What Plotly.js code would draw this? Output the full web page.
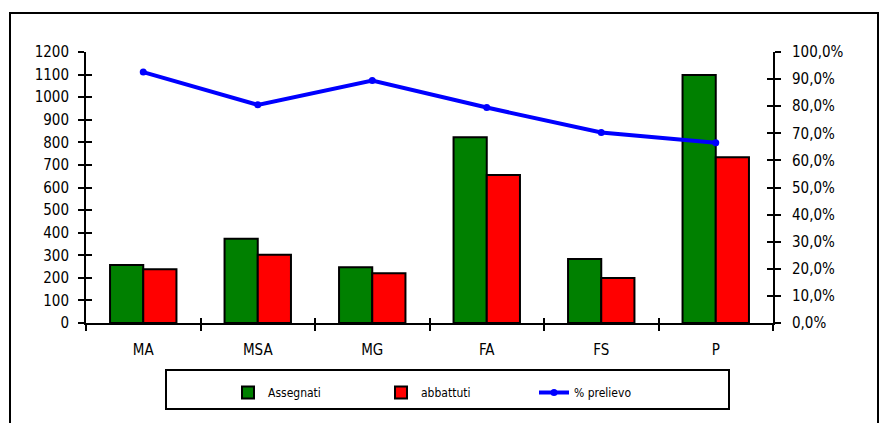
<!DOCTYPE html>
<html>
<head>
<meta charset="utf-8">
<script src="https://cdn.plot.ly/plotly-3.0.1.min.js"></script>
<style>html,body{margin:0;padding:0;background:#fff;}#chart{width:882px;height:423px;}</style>
</head>
<body>
<div id="chart"></div>
<script>
const categories = ['MA', 'MSA', 'MG', 'FA', 'FS', 'P'];
const assegnati = [257, 373, 247, 822, 283, 1098];
const abbattuti = [238, 302, 220, 655, 199, 734];
const prelievo = [0.926, 0.805, 0.895, 0.795, 0.703, 0.665];

const FONT = 'DejaVu Sans Condensed, DejaVu Sans, sans-serif';
const L = 86, R = 773, T = 52, B = 323;
const W = R - L, H = B - T;
const px = v => (v - L) / W;
const py = v => (B - v) / H;

const traces = [
  {type: 'bar', name: 'Assegnati', x: categories, y: assegnati,
   marker: {color: '#008000', line: {color: '#000', width: 2}}},
  {type: 'bar', name: 'abbattuti', x: categories, y: abbattuti,
   marker: {color: '#FF0000', line: {color: '#000', width: 2}}},
  {type: 'scatter', mode: 'lines+markers', name: '% prelievo', x: categories, y: prelievo,
   yaxis: 'y2', line: {color: '#0000FF', width: 4}, marker: {color: '#0000FF', size: 7, symbol: 'circle'}},
  {type: 'scatter', x: categories, y: categories.map(() => null), yaxis: 'y3', showlegend: false, hoverinfo: 'skip'},
  {type: 'scatter', x: categories, y: categories.map(() => null), yaxis: 'y4', showlegend: false, hoverinfo: 'skip'},
  {type: 'scatter', x: categories, y: categories.map(() => null), xaxis: 'x2', showlegend: false, hoverinfo: 'skip'}
];

const tickFont = {family: FONT, size: 15, color: '#000'};

const layout = {
  width: 882, height: 423,
  margin: {l: L, r: 882 - R, t: T, b: 423 - B},
  paper_bgcolor: '#fff', plot_bgcolor: '#fff',
  separators: ',.',
  barmode: 'group', bargap: 0.42, bargroupgap: 0,
  showlegend: true,
  font: {family: FONT, color: '#000'},
  xaxis: {type: 'category', range: [-0.5, 5.5], showline: true, linecolor: '#000', linewidth: 2,
          ticks: 'outside', tickson: 'boundaries', ticklen: 6, tickwidth: 2, tickcolor: '#000',
          showgrid: false, zeroline: false, tickfont: tickFont, ticklabelstandoff: 12},
  xaxis2: {type: 'category', overlaying: 'x', range: [-0.5, 5.5], side: 'bottom', showline: false,
           ticks: 'inside', tickson: 'boundaries', ticklen: 5, tickwidth: 2, tickcolor: '#000',
           showgrid: false, zeroline: false, showticklabels: false, anchor: 'y'},
  yaxis: {range: [0, 1200], dtick: 100, showline: true, linecolor: '#000', linewidth: 2,
          ticks: 'outside', ticklen: 6, tickwidth: 2, tickcolor: '#000',
          showgrid: false, zeroline: false, tickfont: tickFont, ticklabelstandoff: 6},
  yaxis3: {range: [0, 1200], dtick: 100, overlaying: 'y', side: 'left', showline: false,
           ticks: 'inside', ticklen: 6, tickwidth: 2, tickcolor: '#000',
           showgrid: false, zeroline: false, showticklabels: false},
  yaxis2: {range: [0, 1], dtick: 0.1, tickformat: '.1%', overlaying: 'y', side: 'right',
           showline: true, linecolor: '#000', linewidth: 2,
           ticks: 'outside', ticklen: 6, tickwidth: 2, tickcolor: '#000',
           showgrid: false, zeroline: false, tickfont: tickFont, ticklabelstandoff: 8},
  yaxis4: {range: [0, 1], dtick: 0.1, overlaying: 'y', side: 'right', showline: false,
           ticks: 'inside', ticklen: 6, tickwidth: 2, tickcolor: '#000',
           showgrid: false, zeroline: false, showticklabels: false},
  legend: {orientation: 'h', x: px(228), y: py(378), xanchor: 'left', yanchor: 'top',
           bgcolor: 'rgba(0,0,0,0)', borderwidth: 0, entrywidth: 108, entrywidthmode: 'pixels',
           font: {family: FONT, size: 12, color: '#000'}, traceorder: 'normal'},
  shapes: [
    {type: 'rect', xref: 'paper', yref: 'paper', x0: px(166), x1: px(729), y0: py(409), y1: py(370),
     line: {color: '#000', width: 2}, fillcolor: 'rgba(0,0,0,0)', layer: 'below'},
    {type: 'rect', xref: 'paper', yref: 'paper', x0: px(10), x1: px(878), y0: py(440), y1: py(13),
     line: {color: '#000', width: 2}, fillcolor: 'rgba(0,0,0,0)', layer: 'below'}
  ]
};

Plotly.newPlot('chart', traces, layout, {displayModeBar: false, staticPlot: true});
</script>
</body>
</html>
